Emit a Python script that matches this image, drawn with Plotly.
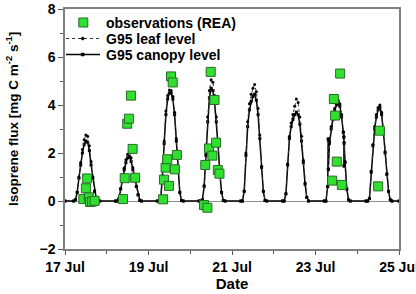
import datetime as dt
import plotly.graph_objects as go

# ---------------- data ----------------
START = dt.datetime(2007, 7, 17)
DAYS = ["2007-07-17", "2007-07-18", "2007-07-19", "2007-07-20",
        "2007-07-21", "2007-07-22", "2007-07-23", "2007-07-24"]

# hours of day at which the model curves are sampled
MODEL_HOURS = [5, 6, 7, 8, 9, 10, 11, 12, 13, 14, 15, 16, 17, 18, 19, 20]
# 23 Jul has two short glitches, so it carries its own hours
MODEL_HOURS_23 = [5, 6, 7, 7.3, 7.35, 8, 9, 10, 11, 12, 13, 14, 15, 16,
                  16.3, 16.35, 16.45, 17, 18, 19, 20]

canopy_17 = [0, 0.05, 0.35, 0.95, 1.5, 2.0, 2.35, 2.5, 2.45, 2.1, 1.5, 0.95, 0.4, 0.08, 0, 0]
canopy_18 = [0, 0, 0.1, 0.5, 0.95, 1.3, 1.6, 1.8, 1.85, 1.65, 1.3, 0.95, 0.6, 0.25, 0.03, 0]
canopy_19 = [0, 0, 0.1, 1.0, 2.4, 3.6, 4.25, 4.5, 4.5, 4.25, 3.6, 2.5, 1.3, 0.35, 0.02, 0]
canopy_20 = [0, 0, 0.05, 0.6, 1.9, 3.3, 4.3, 4.7, 4.6, 4.1, 3.3, 2.3, 1.2, 0.35, 0.02, 0]
canopy_21 = [0, 0, 0.4, 1.9, 3.1, 3.8, 4.15, 4.35, 4.45, 4.2, 3.6, 2.6, 1.4, 0.4, 0.02, 0]
canopy_22 = [0, 0, 0.3, 1.5, 2.6, 3.1, 3.4, 3.6, 3.7, 3.6, 3.2, 2.5, 1.6, 0.7, 0.15, 0]
canopy_23 = [0, 0, 0.6, 2.55, 1.3, 2.4, 3.0, 3.4, 3.75, 4.0, 4.1, 3.95, 3.5, 2.85,
             2.65, 1.45, 2.4, 1.6, 0.5, 0.05, 0]
canopy_24 = [0, 0, 0.1, 1.2, 2.3, 3.0, 3.5, 3.8, 3.9, 3.6, 2.9, 2.0, 1.1, 0.4, 0.05, 0]

leaf_17 = [0, 0.05, 0.37, 1.0, 1.6, 2.15, 2.55, 2.75, 2.7, 2.3, 1.65, 1.0, 0.43, 0.09, 0, 0]
leaf_18 = [0, 0, 0.1, 0.52, 1.0, 1.38, 1.72, 1.95, 2.05, 1.8, 1.4, 1.0, 0.63, 0.27, 0.03, 0]
leaf_19 = [0, 0, 0.1, 1.05, 2.5, 3.75, 4.4, 4.62, 4.6, 4.35, 3.7, 2.6, 1.35, 0.38, 0.02, 0]
leaf_20 = [0, 0, 0.05, 0.65, 2.0, 3.5, 4.6, 5.05, 4.95, 4.4, 3.5, 2.4, 1.25, 0.38, 0.02, 0]
leaf_21 = [0, 0, 0.42, 2.0, 3.3, 4.05, 4.45, 4.7, 4.85, 4.55, 3.85, 2.75, 1.45, 0.42, 0.02, 0]
leaf_22 = [0, 0, 0.3, 1.55, 2.7, 3.25, 3.6, 3.95, 4.25, 4.1, 3.5, 2.7, 1.7, 0.75, 0.15, 0]
leaf_23 = [0, 0, 0.6, 2.6, 1.35, 2.5, 3.1, 3.5, 3.85, 4.1, 4.2, 4.05, 3.6, 2.9,
           2.7, 1.5, 2.45, 1.65, 0.5, 0.05, 0]
leaf_24 = [0, 0, 0.1, 1.25, 2.35, 3.1, 3.6, 3.9, 4.0, 3.7, 3.0, 2.05, 1.15, 0.42, 0.05, 0]

CANOPY_DAYS = [canopy_17, canopy_18, canopy_19, canopy_20, canopy_21, canopy_22, canopy_23, canopy_24]
LEAF_DAYS = [leaf_17, leaf_18, leaf_19, leaf_20, leaf_21, leaf_22, leaf_23, leaf_24]

# observations: time in days since 17 Jul 00:00, and flux
OBS_DAY = [0.44, 0.50, 0.53, 0.57, 0.60, 0.65, 0.71,
           1.39, 1.43, 1.49, 1.53, 1.58, 1.62, 1.68,
           2.35, 2.37, 2.41, 2.45, 2.49, 2.54, 2.58, 2.63, 2.68,
           3.33, 3.41, 3.36, 3.45, 3.49, 3.53, 3.58, 3.62, 3.66, 3.70,
           6.40, 6.44, 6.47, 6.51, 6.59, 6.63,
           7.50, 7.54]
OBS_FLUX = [0.08, 0.53, 0.94, 0.15, -0.04, -0.02, 0.01,
            0.08, 0.95, 3.22, 3.43, 4.39, 2.17, 0.97,
            0.07, 0.89, 1.39, 1.74, 0.63, 5.19, 4.94, 1.32, 1.92,
            -0.17, -0.28, 1.50, 2.19, 5.38, 1.89, 4.21, 2.43, 1.29, 1.14,
            0.85, 4.25, 3.56, 1.64, 5.31, 0.67,
            0.61, 2.93]

X_START = "2007-07-17"
X_END = "2007-07-25"
Y_TICKS = [-2, 0, 2, 4, 6, 8]
LEGEND_NAMES = ["observations (REA)", "G95 leaf level", "G95 canopy level"]
Y_TITLE = "Isoprene flux [mg C m<sup>-2</sup> s<sup>-1</sup>]"

# ---------------- build series ----------------
def build(day_lists):
    xs, ys = [START], [0]
    for i, vals in enumerate(day_lists):
        hrs = MODEL_HOURS_23 if i == 6 else MODEL_HOURS
        day0 = dt.datetime.fromisoformat(DAYS[i])
        for h, v in zip(hrs, vals):
            xs.append(day0 + dt.timedelta(hours=h))
            ys.append(v)
    xs.append(dt.datetime.fromisoformat(X_END))
    ys.append(0)
    return xs, ys

cx, cy = build(CANOPY_DAYS)
lx, ly = build(LEAF_DAYS)
ox = [START + dt.timedelta(days=d) for d in OBS_DAY]

FONT = "Liberation Sans, Arial, sans-serif"
GREEN = "#2fe02f"
GREEN_EDGE = "#2a6a2a"

fig = go.Figure()
fig.add_trace(go.Scatter(
    x=cx, y=cy, mode="lines+markers", name=LEGEND_NAMES[2],
    line=dict(color="black", width=1.5),
    marker=dict(symbol="square", size=3, color="black"), showlegend=False))
fig.add_trace(go.Scatter(
    x=lx, y=ly, mode="lines+markers", name=LEGEND_NAMES[1],
    line=dict(color="#333333", width=1, dash="dot"),
    marker=dict(symbol="circle", size=3, color="black"), showlegend=False))
fig.add_trace(go.Scatter(
    x=ox, y=OBS_FLUX, mode="markers", name=LEGEND_NAMES[0],
    marker=dict(symbol="square", size=9, color=GREEN,
                line=dict(color=GREEN_EDGE, width=1)), showlegend=False))

# ---------------- compact legend (paper coordinates) ----------------
PL, PR, PT, PB = 65, 399, 9, 249          # plot area in pixels
def px(xp):
    return (xp - PL) / (PR - PL)
def py(yp):
    return (PB - yp) / (PB - PT)

rows = [22.5, 38.5, 54.5]
shapes = []
annotations = []
# row 1: green square
shapes.append(dict(type="rect", xref="paper", yref="paper",
                   x0=px(78.8), x1=px(87.8), y0=py(rows[0] + 4.5), y1=py(rows[0] - 4.5),
                   fillcolor=GREEN, line=dict(color=GREEN_EDGE, width=1)))
# row 2: dotted line + dot
shapes.append(dict(type="line", xref="paper", yref="paper",
                   x0=px(66), x1=px(100), y0=py(rows[1]), y1=py(rows[1]),
                   line=dict(color="#333333", width=1, dash="dot")))
shapes.append(dict(type="circle", xref="paper", yref="paper",
                   x0=px(81.2), x1=px(84.2), y0=py(rows[1] + 1.5), y1=py(rows[1] - 1.5),
                   fillcolor="black", line=dict(color="black", width=0.5)))
# row 3: solid line + square
shapes.append(dict(type="line", xref="paper", yref="paper",
                   x0=px(66), x1=px(100), y0=py(rows[2]), y1=py(rows[2]),
                   line=dict(color="black", width=1.5)))
shapes.append(dict(type="rect", xref="paper", yref="paper",
                   x0=px(81.2), x1=px(84.2), y0=py(rows[2] + 1.5), y1=py(rows[2] - 1.5),
                   fillcolor="black", line=dict(color="black", width=0.5)))
for name, r in zip(LEGEND_NAMES, rows):
    annotations.append(dict(text=name, xref="paper", yref="paper",
                            x=px(103.5), y=py(r), xanchor="left", yanchor="middle",
                            showarrow=False,
                            font=dict(family=FONT, size=14, color="black", weight="bold")))
# y-axis title (placed like the reference, slightly above the plot centre)
annotations.append(dict(text=Y_TITLE, xref="paper", yref="paper",
                        x=px(12), y=py(119), xanchor="center", yanchor="middle",
                        textangle=-90, showarrow=False,
                        font=dict(family=FONT, size=13.5, color="black", weight="bold")))

fig.update_layout(
    width=416, height=294,
    margin=dict(l=65, r=17, t=9, b=45),
    paper_bgcolor="white", plot_bgcolor="white",
    font=dict(family=FONT, size=14, color="black"),
    showlegend=False,
    shapes=shapes, annotations=annotations,
)
fig.update_xaxes(
    type="date", range=[X_START, X_END], automargin=False,
    tickformat="%d %b", dtick=2 * 86400000, tick0=X_START,
    ticklabeloverflow="allow",
    ticks="outside", ticklen=4, tickwidth=1.2, tickcolor="#555",
    minor=dict(dtick=86400000, ticks="outside", ticklen=3, tickcolor="#555"),
    showline=True, linecolor="#808080", linewidth=1.5, mirror=True,
    showgrid=False, zeroline=False,
    tickfont=dict(family=FONT, size=14, weight="bold"),
    title=dict(text="Date", font=dict(family=FONT, size=15, weight="bold"), standoff=5),
)
fig.update_yaxes(
    range=[-2, 8], tickvals=Y_TICKS, automargin=False,
    ticks="outside", ticklen=5, tickwidth=1.2, tickcolor="#555",
    minor=dict(dtick=1, ticks="outside", ticklen=3, tickcolor="#555"),
    showline=True, linecolor="#808080", linewidth=1.5, mirror=True,
    showgrid=False, zeroline=True, zerolinecolor="#909090", zerolinewidth=1,
    tickfont=dict(family=FONT, size=14, weight="bold"),
)

fig.write_html("out.html")
